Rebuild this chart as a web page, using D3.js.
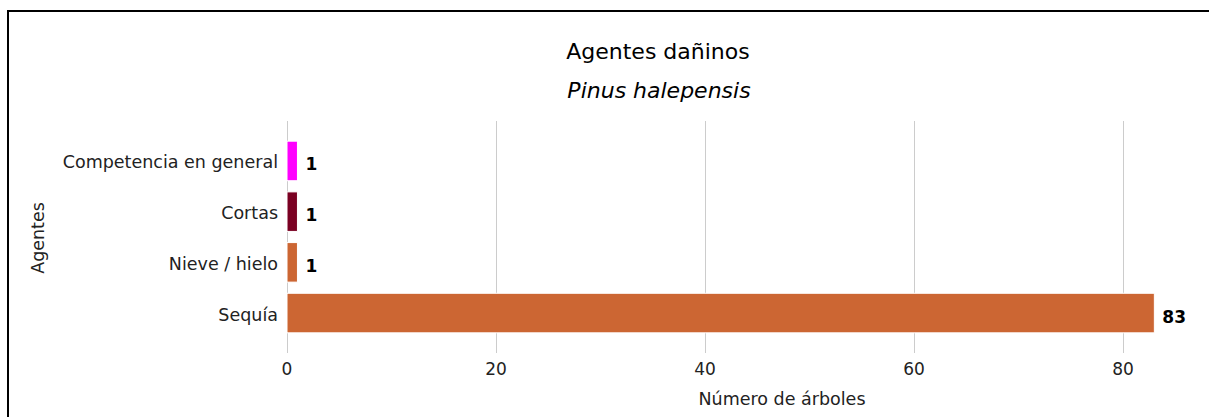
<!DOCTYPE html>
<html>
<head>
<meta charset="utf-8">
<script src="https://cdn.jsdelivr.net/npm/d3@7"></script>
<style>
    body { margin: 0; background: #fff; overflow: hidden; }
    svg { display: block; font-family: "DejaVu Sans", sans-serif; }
</style>
</head>
<body>
<script>
// Agentes dañinos - Pinus halepensis
const agentes = ['Competencia en general', 'Cortas', 'Nieve / hielo', 'Sequía'];
const arboles = [1, 1, 1, 83];
const colores = ['#ff00ff', '#7a0022', '#cc6633', '#cc6633'];
const ticksX = [0, 20, 40, 60, 80];

const width = 1209;
const height = 417;

const data = agentes.map((name, i) => ({ name: name, value: arboles[i], color: colores[i] }));

const svg = d3.select("body").append("svg")
    .attr("width", width)
    .attr("height", height);

// frame of the chart container (cut off at the right)
svg.append("rect")
    .attr("x", 8)
    .attr("y", 11)
    .attr("width", 1400)
    .attr("height", 500)
    .attr("fill", "none")
    .attr("stroke", "#000")
    .attr("stroke-width", 2);

const x = d3.scaleLinear()
    .domain([0, 100])
    .range([287, 1332]);

const y = d3.scaleBand()
    .domain(agentes)
    .range([121, 353])
    .paddingInner(0.22)
    .paddingOuter(0.398);

// grid
svg.append("g")
    .selectAll("line")
    .data(ticksX)
    .join("line")
    .attr("x1", d => Math.round(x(d)) + 0.5)
    .attr("x2", d => Math.round(x(d)) + 0.5)
    .attr("y1", 121)
    .attr("y2", 353)
    .attr("stroke", "#cccccc")
    .attr("stroke-width", 1);

// x tick labels
svg.append("g")
    .selectAll("text")
    .data(ticksX)
    .join("text")
    .attr("x", d => x(d))
    .attr("y", 375)
    .attr("text-anchor", "middle")
    .style("font-size", "17px")
    .attr("fill", "#222")
    .text(d => d);

// bars
svg.append("g")
    .selectAll("rect")
    .data(data)
    .join("rect")
    .attr("x", x(0))
    .attr("y", d => y(d.name))
    .attr("width", d => x(d.value) - x(0))
    .attr("height", y.bandwidth())
    .attr("fill", d => d.color)
    .attr("stroke", "#fff")
    .attr("stroke-width", 1);

// value labels
svg.append("g")
    .selectAll("text")
    .data(data)
    .join("text")
    .attr("x", d => x(d.value) + 8)
    .attr("y", d => y(d.name) + y.bandwidth() / 2 + 9.5)
    .style("font-size", "17px")
    .style("font-weight", "bold")
    .attr("fill", "#000")
    .text(d => d.value);

// category labels
svg.append("g")
    .selectAll("text")
    .data(agentes)
    .join("text")
    .attr("x", 278)
    .attr("y", d => y(d) + y.bandwidth() / 2 + 7.5)
    .attr("text-anchor", "end")
    .style("font-size", "17.5px")
    .attr("fill", "#222")
    .text(d => d);

// titles
svg.append("text")
    .attr("x", 658)
    .attr("y", 59)
    .attr("text-anchor", "middle")
    .style("font-size", "22px")
    .attr("fill", "#000")
    .text("Agentes dañinos");

svg.append("text")
    .attr("x", 659)
    .attr("y", 98)
    .attr("text-anchor", "middle")
    .style("font-size", "22px")
    .style("font-style", "italic")
    .attr("fill", "#000")
    .text("Pinus halepensis");

svg.append("text")
    .attr("x", 782)
    .attr("y", 405)
    .attr("text-anchor", "middle")
    .style("font-size", "17.5px")
    .attr("fill", "#222")
    .text("Número de árboles");

svg.append("text")
    .attr("transform", "translate(44,238) rotate(-90)")
    .attr("text-anchor", "middle")
    .style("font-size", "17.5px")
    .attr("fill", "#222")
    .text("Agentes");
</script>
</body>
</html>
